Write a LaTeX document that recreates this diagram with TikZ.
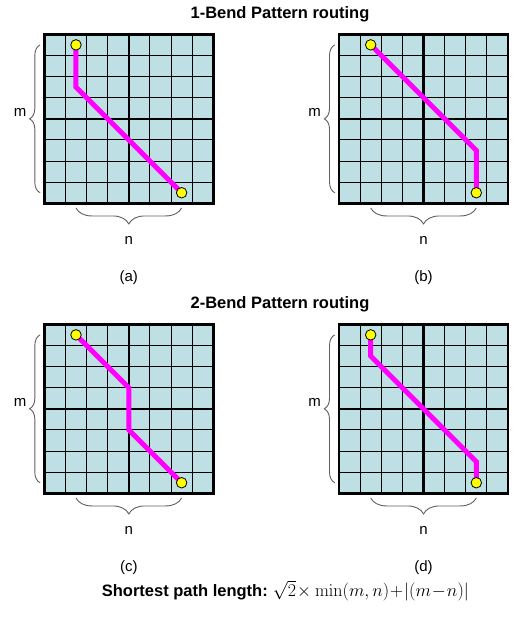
\RequirePackage{fix-cm}
\documentclass[tikz,border=0pt]{standalone}
\usepackage[no-math]{fontspec}
\setmainfont{Liberation Sans}
\usetikzlibrary{decorations.pathreplacing}
\definecolor{cellfill}{RGB}{190,224,228}
\definecolor{routecol}{RGB}{255,0,255}
\definecolor{pincol}{RGB}{255,255,0}
\definecolor{bracecol}{RGB}{95,95,95}
\newcommand\routepanel[5]{%
  \begin{scope}[shift={(#1,#2)},x=21.125pt,y=-21.125pt]
    \fill[cellfill] (0,0) rectangle (8,8);
    \foreach \i in {1,2,3,5,6,7} {
      \draw[gridthin] (\i,0) -- (\i,8);
      \draw[gridthin] (0,\i) -- (8,\i);
    }
    \draw[gridthick] (4,0) -- (4,8) (0,4) -- (8,4);
    \draw[gridthick] (0,0) rectangle (8,8);
    \coordinate (#3s) at (1.5,0.5);
    \coordinate (#3t) at (6.5,7.5);
    \draw[route] (#3s) -- #5 -- (#3t);
    \node[pin] (#3sp) at (#3s) {};
    \node[pin] (#3tp) at (#3t) {};
    \draw[bracestyle, decoration={brace, amplitude=10.5pt}] (-0.2,7.5) -- (-0.2,0.5);
    \draw[bracestyle, decoration={brace, amplitude=16pt}] (6.5,8.22) -- (1.5,8.22);
    \node[lbl, anchor=base] (#3m) at (-1.15,3.9) {m};
    \node[lbl, anchor=base] (#3n) at (4,9.97) {n};
    \node[lbl, anchor=base] (#3cap) at (4,11.68) {(#4)};
  \end{scope}}
\begin{document}
\begin{tikzpicture}[x=1pt,y=-1pt,
  gridthin/.style={draw=black, line width=0.9pt},
  gridthick/.style={draw=black, line width=2.6pt},
  route/.style={draw=routecol, line width=5pt},
  pin/.style={circle, fill=pincol, draw=black, line width=0.8pt, minimum size=10.5pt, inner sep=0pt},
  bracestyle/.style={draw=bracecol, line width=0.9pt, decorate},
  lbl/.style={font=\fontsize{15}{17}\selectfont, inner sep=0pt},
  titlestyle/.style={font=\fontsize{16.5}{18}\selectfont\bfseries, inner sep=0pt}]
\useasboundingbox (0,0) rectangle (514,619);
\node[titlestyle, anchor=base] (t1) at (280,18) {1-Bend Pattern routing};
\node[titlestyle, anchor=base] (t2) at (280,308.3) {2-Bend Pattern routing};
\routepanel{44.3}{34.3}{a}{a}{(1.5,2.5)}
\routepanel{339}{34.3}{b}{b}{(6.5,5.5)}
\routepanel{44.3}{324.3}{c}{c}{(4,3) -- (4,5)}
\routepanel{339}{324.3}{d}{d}{(1.5,1.5) -- (6.5,6.5)}
\node[anchor=base west, inner sep=0pt] (f) at (101.7,596.7)
  {\fontsize{16.5}{18}\selectfont\bfseries Shortest path length:\hspace{5pt}\fontsize{18}{20}\selectfont $\sqrt{2}\mkern1mu{\times}\mkern1mu\min(m,n)\mkern1mu{+}\mkern1mu\Bigl|(m\mkern1mu{-}\mkern1mu n)\Bigr|$};
\end{tikzpicture}
\end{document}
